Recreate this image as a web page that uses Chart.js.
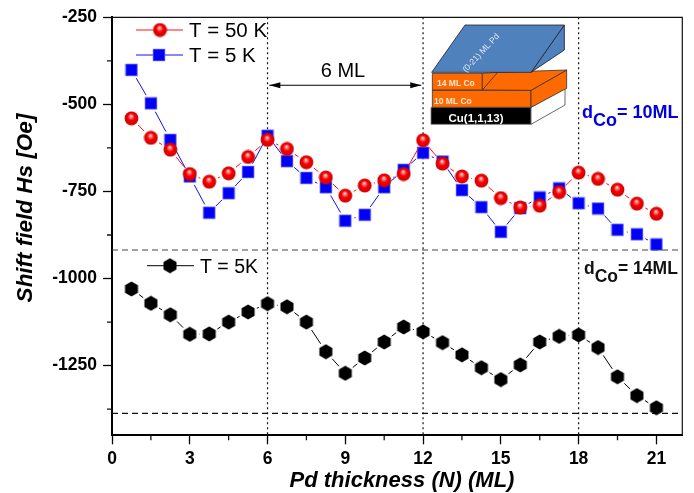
<!DOCTYPE html>
<html>
<head>
<meta charset="utf-8">
<style>
  html, body { margin: 0; padding: 0; background: #fff; }
  #wrap { position: relative; width: 694px; height: 493px; }
</style>
<script src="https://cdn.jsdelivr.net/npm/chart.js@4"></script>
</head>
<body>
<div id="wrap"><canvas id="chart" width="694" height="493"></canvas></div>
<script>
const SANS = '"Liberation Sans", Arial, sans-serif';
Chart.defaults.font.family = SANS;
Chart.defaults.color = "#000";
Chart.defaults.animation = false;

const thickness = [0.75, 1.5, 2.25, 3, 3.75, 4.5, 5.25, 6, 6.75, 7.5, 8.25, 9, 9.75, 10.5,
  11.25, 12, 12.75, 13.5, 14.25, 15, 15.75, 16.5, 17.25, 18, 18.75, 19.5, 20.25, 21];
const red50K = [-540, -596, -630, -700, -722, -698, -651, -602, -628, -666, -710, -762, -733, -718,
  -700, -603, -670, -707, -719, -769, -796, -791, -752, -696, -714, -745, -785, -814];
const blue5K = [-401, -497, -602, -707, -811, -755, -694, -590, -663, -711, -738, -834, -817, -738,
  -688, -639, -664, -746, -795, -866, -798, -767, -741, -784, -799, -860, -873, -902];
const black5K = [-1030, -1071, -1104, -1160, -1159, -1125, -1096, -1072, -1081, -1125, -1210, -1272, -1228, -1182,
  -1139, -1153, -1184, -1219, -1256, -1290, -1248, -1182, -1166, -1162, -1198, -1282, -1336, -1371];

const xTicks = [0, 3, 6, 9, 12, 15, 18, 21];
const xMinorTicks = [1.5, 4.5, 7.5, 10.5, 13.5, 16.5, 19.5];
const yTicks = [-250, -500, -750, -1000, -1250];
const yMinorTicks = [-375, -625, -875, -1125, -1375];
const vLines = [6, 12, 18];
const hLines = [-918, -1387];
const arrowSpan = [6.07, 11.93];
const arrowLevel = -445;

const toXY = (ys) => thickness.map((x, i) => ({ x, y: ys[i] }));

// marker sprites, used as pointStyle so the library places them
function sprite(size, paint) {
  const c = document.createElement("canvas");
  c.width = c.height = size;
  paint(c.getContext("2d"), size / 2);
  return c;
}
const sphere = sprite(15, (g, m) => {
  const grad = g.createRadialGradient(m - 0.5, m - 2.5, 0.3, m, m, 7);
  grad.addColorStop(0, "#ffe0e0");
  grad.addColorStop(0.2, "#ff7070");
  grad.addColorStop(0.48, "#f40000");
  grad.addColorStop(1, "#d00000");
  g.fillStyle = grad;
  g.beginPath();
  g.arc(m, m, 6.9, 0, Math.PI * 2);
  g.fill();
});
const square = sprite(14, (g) => {
  g.fillStyle = "#5c5cff";
  g.fillRect(0.8, 0.8, 12.4, 12.4);
  g.fillStyle = "#0000f6";
  g.fillRect(1.6, 1.6, 10.8, 10.8);
});
const hexagon = sprite(16, (g, m) => {
  g.fillStyle = "#000";
  g.beginPath();
  for (let i = 0; i < 6; i++) {
    const a = Math.PI / 2 + (i * Math.PI) / 3;
    g.lineTo(m + 7.5 * Math.cos(a), m + 7.5 * Math.sin(a));
  }
  g.closePath();
  g.fill();
});

// the lines stop short of the markers, like in the original plot
const GAP = 9.5;
function gapDash(c) {
  const len = Math.hypot(c.p1.x - c.p0.x, c.p1.y - c.p0.y);
  return len <= GAP * 2 ? [0, 1000] : [0, GAP, len - GAP * 2, 1000];
}

function series(ys, color, img) {
  return {
    data: toXY(ys), showLine: true, borderColor: color, borderWidth: 1,
    pointStyle: img, pointRadius: 7, segment: { borderDash: gapDash },
  };
}
function refLine(points, color, dash) {
  return {
    data: points, showLine: true, borderColor: color, borderWidth: 1.2,
    borderDash: dash, pointRadius: 0,
  };
}

const datasets = [
  series(red50K, "#ff1010", sphere),
  series(blue5K, "#1010f0", square),
  series(black5K, "#000", hexagon),
  refLine([{ x: arrowSpan[0], y: arrowLevel }, { x: arrowSpan[1], y: arrowLevel }], "#000", []),
  ...vLines.map((x) => refLine([{ x, y: -250 }, { x, y: -1450 }], "#111", [2, 3])),
  refLine([{ x: 0, y: hLines[0] }, { x: 22, y: hLines[0] }], "#444", [6, 4]),
  refLine([{ x: 0, y: hLines[1] }, { x: 21.85, y: hLines[1] }], "#111", [6, 4]),
];

function poly(g, pts, fill, stroke) {
  g.beginPath();
  pts.forEach((p) => g.lineTo(425 + p[0] / 3, 15 + p[1] / 3));
  g.closePath();
  if (fill) { g.fillStyle = fill; g.fill(); }
  if (stroke) { g.strokeStyle = stroke; g.lineWidth = 0.8; g.stroke(); }
}
function label(g, text, x, y, font, color, align) {
  g.font = font;
  g.fillStyle = color || "#000";
  g.textAlign = align || "left";
  g.textBaseline = "alphabetic";
  g.fillText(text, x, y);
}
function legendRow(g, x0, x1, y, color, img, mx) {
  g.strokeStyle = color;
  g.lineWidth = 1;
  g.beginPath();
  g.moveTo(x0, y);
  g.lineTo(x1, y);
  g.stroke();
  g.drawImage(img, mx - img.width / 2, y - img.height / 2);
}
// d with subscript Co, then the rest of the label
function dCo(g, x, y, size, rest, color) {
  const f = `bold ${size}px ${SANS}`;
  label(g, "d", x, y, f, color);
  let w = g.measureText("d").width;
  label(g, "Co", x + w, y + 8, f, color);
  w += g.measureText("Co").width;
  label(g, rest, x + w, y, f, color);
}

const extras = {
  id: "extras",
  afterDraw(chart) {
    const g = chart.ctx;
    const { x: sx, y: sy } = chart.scales;
    const a = chart.chartArea;
    g.save();

    // frame: top and right sides, minor ticks
    g.strokeStyle = "#111";
    g.lineWidth = 1.2;
    g.beginPath();
    g.moveTo(a.left, a.top);
    g.lineTo(a.right, a.top);
    g.lineTo(a.right, a.bottom);
    g.stroke();
    g.lineWidth = 1.3;
    g.beginPath();
    xMinorTicks.forEach((v) => {
      const p = sx.getPixelForValue(v);
      g.moveTo(p, a.bottom);
      g.lineTo(p, a.bottom + 5);
    });
    yMinorTicks.forEach((v) => {
      const p = sy.getPixelForValue(v);
      g.moveTo(a.left, p);
      g.lineTo(a.left - 5, p);
    });
    g.stroke();

    // arrow heads of the 6 ML bracket
    const ay = sy.getPixelForValue(arrowLevel);
    const al = sx.getPixelForValue(arrowSpan[0]);
    const ar = sx.getPixelForValue(arrowSpan[1]);
    g.fillStyle = "#000";
    g.beginPath();
    g.moveTo(al, ay); g.lineTo(al + 11, ay - 3); g.lineTo(al + 11, ay + 3);
    g.closePath();
    g.moveTo(ar, ay); g.lineTo(ar - 11, ay - 3); g.lineTo(ar - 11, ay + 3);
    g.closePath();
    g.fill();
    label(g, "6 ML", 343, 77, `20px ${SANS}`, "#000", "center");

    // legends
    legendRow(g, 136, 183, 30, "#ff1010", sphere, 160);
    legendRow(g, 136, 183, 55, "#1010f0", square, 159);
    legendRow(g, 147, 194, 265.7, "#000", hexagon, 170);
    label(g, "T = 50 K", 189, 37, `20.5px ${SANS}`);
    label(g, "T = 5 K", 189, 62, `20.5px ${SANS}`);
    label(g, "T = 5K", 200, 273, `19.5px ${SANS}`);

    dCo(g, 582, 118, 18, "= 10ML", "#0000e0");
    dCo(g, 584, 274, 17.5, "= 14ML", "#111");

    // axis titles
    label(g, "Pd thickness (N) (ML)", 402, 487, `italic bold 22px ${SANS}`, "#000", "center");
    g.save();
    g.translate(32, 208);
    g.rotate(-Math.PI / 2);
    label(g, "Shift field Hs [Oe]", 0, 0, `italic bold 22.5px ${SANS}`, "#000", "center");
    g.restore();

    // sample stack inset
    poly(g, [[18, 277], [318, 277], [318, 328], [18, 328]], "#000", "#777");
    poly(g, [[318, 277], [420, 220], [420, 270], [318, 328]], "#fff", "#444");
    poly(g, [[22, 226], [318, 226], [318, 277], [22, 277]], "#ff6a00", "#333");
    poly(g, [[318, 226], [425, 165], [425, 220], [318, 277]], "#ff6a00", "#333");
    poly(g, [[172, 225], [215, 172], [425, 165], [318, 226]], "#ff6a00", "#333");
    poly(g, [[22, 175], [172, 175], [172, 225], [22, 225]], "#ff6a00", "#333");
    poly(g, [[172, 175], [218, 172], [172, 225]], "#ff6a00", "#333");
    poly(g, [[318, 172], [418, 30], [418, 105]], "#4f81bd", "#112");
    poly(g, [[20, 172], [120, 30], [418, 30], [318, 172]], "#4f81bd", "#223");
    label(g, "14 ML Co", 437, 85.5, `bold 8.5px ${SANS}`, "#ffe8d8");
    label(g, "10 ML Co", 434, 103.5, `bold 8.5px ${SANS}`, "#ffe8d8");
    label(g, "Cu(1,1,13)", 476, 122, `bold 11.5px ${SANS}`, "#fff", "center");
    g.translate(481, 53);
    g.rotate((-47 * Math.PI) / 180);
    label(g, "(0-21) ML Pd", 0, 2.5, `8.5px ${SANS}`, "#dfe8f4", "center");
    g.restore();
  },
};

new Chart(document.getElementById("chart").getContext("2d"), {
  type: "scatter",
  data: { datasets },
  plugins: [extras],
  options: {
    responsive: false,
    layout: { padding: { top: 17.3, right: 11.7, left: 0, bottom: 0 } },
    plugins: { legend: { display: false }, tooltip: { enabled: false } },
    scales: {
      x: {
        min: 0, max: 22,
        afterBuildTicks: (s) => { s.ticks = xTicks.map((value) => ({ value })); },
        afterFit: (s) => { s.height = 57.7; },
        border: { color: "#000", width: 2 },
        grid: { drawOnChartArea: false, tickLength: 9, tickWidth: 1.3, tickColor: "#000" },
        ticks: { font: { size: 17.5, weight: "bold" }, padding: 4, maxRotation: 0, autoSkip: false },
      },
      y: {
        min: -1450, max: -250,
        afterBuildTicks: (s) => { s.ticks = yTicks.map((value) => ({ value })); },
        afterFit: (s) => { s.width = 112; },
        border: { color: "#000", width: 2 },
        grid: { drawOnChartArea: false, tickLength: 9, tickWidth: 1.3, tickColor: "#000" },
        ticks: { font: { size: 17.5, weight: "bold" }, padding: 6, autoSkip: false, callback: (v) => String(v) },
      },
    },
  },
});
</script>
</body>
</html>
